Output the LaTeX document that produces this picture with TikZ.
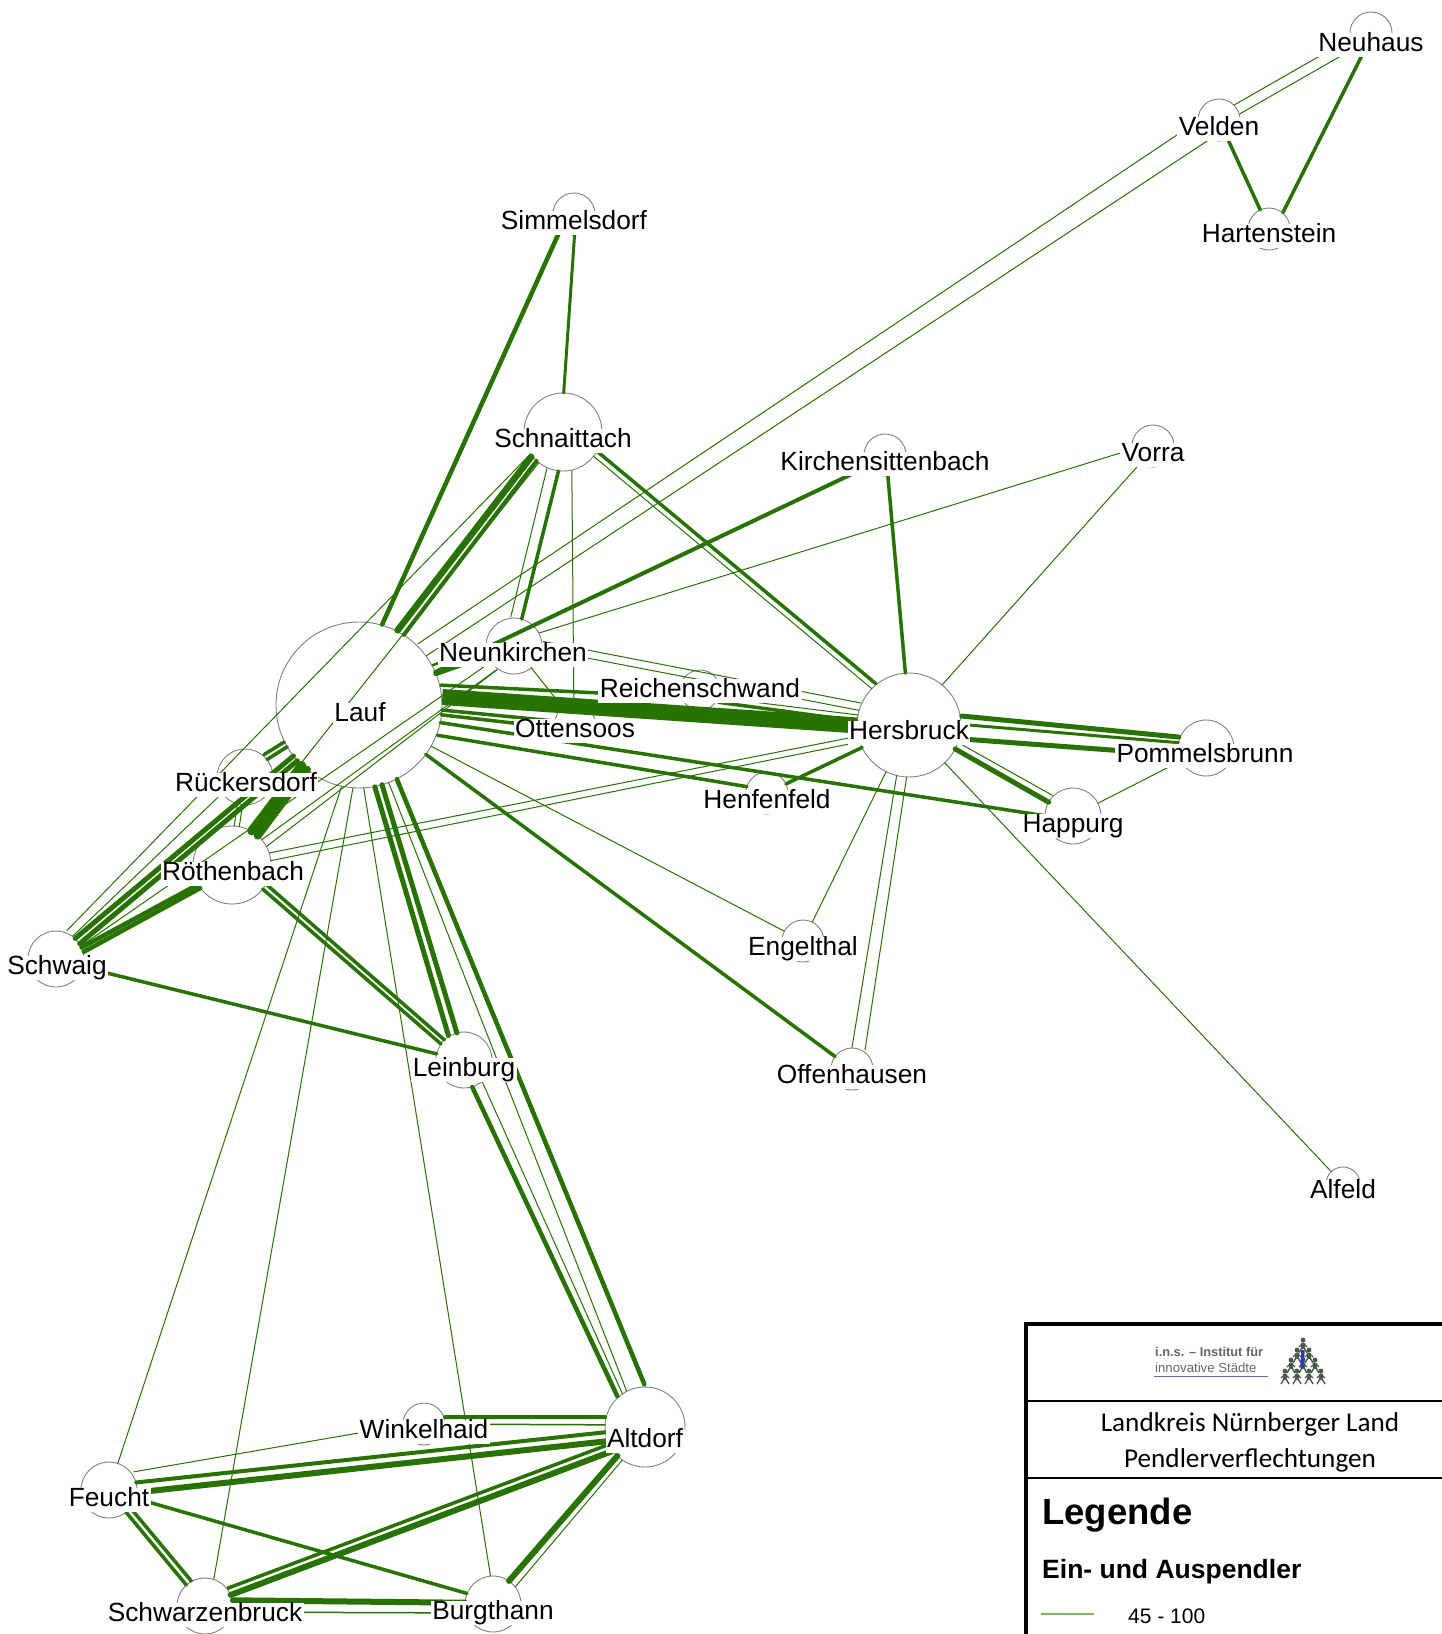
\documentclass[tikz,border=0pt]{standalone}
\usepackage{fontspec}
\setmainfont{Liberation Sans}
\newfontfamily\carl{Carlito}
\usetikzlibrary{calc}
\definecolor{lnkcol}{HTML}{277200}
\definecolor{legcol}{HTML}{7FB069}
\definecolor{logogray}{HTML}{4A5A4A}
\tikzset{
  cityc/.style={circle,draw=black!50,line width=0.9pt,fill=white,inner sep=0pt},
  citylab/.style={fill=white,inner xsep=1.5pt,inner ysep=0pt,text height=19pt,text depth=5.5pt,yshift=-2.75pt,font=\fontsize{26.3}{30}\selectfont,text=black},
  lnkstyle/.style={draw=lnkcol,line cap=round},
  legrule/.style={draw=black,line cap=rect},
  legtxt/.style={inner sep=0pt,text=black}
}
% \city{name}{x}{y}{r}
\newcommand{\city}[4]{\expandafter\gdef\csname r#1\endcsname{#4}\node[cityc,minimum size=#4*2pt] (#1) at (#2,#3) {};}
\newcommand{\lab}[4]{\node[citylab] (#1-l) at (#3,#4) {#2};}
% \lnk[options]{width}{A}{B}{offset at A}{offset at B}; offsets to the left of A->B
\newcommand{\lnk}[6][]{\draw[lnkstyle,#1,line width=#2pt,shorten <=\csname r#3\endcsname pt,shorten >=\csname r#4\endcsname pt] ($(#3)!#5pt!90:(#4)$) -- ($(#4)!#6pt!-90:(#3)$);}
\begin{document}
\begin{tikzpicture}[x=1pt,y=-1pt]
\useasboundingbox (0,0) rectangle (1442,1634);
\fill[white] (0,0) rectangle (1442,1634);
% circles
\city{Neuhaus}{1371}{33}{21}
\city{Velden}{1219}{120}{21}
\city{Hartenstein}{1269}{229}{21}
\city{Simmelsdorf}{574}{214}{21}
\city{Schnaittach}{563}{432}{39}
\city{Kirchensittenbach}{885}{455}{21}
\city{Vorra}{1153}{446}{21}
\city{Neunkirchen}{514}{646}{28}
\city{Lauf}{359}{705}{83}
\city{Reichenschwand}{700}{690}{20}
\city{Ottensoos}{575}{723}{20}
\city{Hersbruck}{909}{725}{52}
\city{Pommelsbrunn}{1206}{748}{28}
\city{Happurg}{1073}{816}{28}
\city{Henfenfeld}{767}{793}{21}
\city{Engelthal}{803}{941}{21}
\city{Offenhausen}{852}{1069}{21}
\city{Alfeld}{1343}{1184}{17}
\city{Rueckersdorf}{245}{777}{28}
\city{Roethenbach}{232}{865}{39}
\city{Schwaig}{56}{959}{28}
\city{Leinburg}{464}{1060}{28}
\city{Altdorf}{645}{1427}{40}
\city{Winkelhaid}{424}{1424}{21}
\city{Feucht}{109}{1490}{28}
\city{Schwarzenbruck}{205}{1606}{28}
\city{Burgthann}{493}{1604}{28}
% north-east
\lnk{1}{Velden}{Neuhaus}{5.5}{5.5}
\lnk{1}{Velden}{Neuhaus}{-5}{-5}
\lnk{3.5}{Hartenstein}{Neuhaus}{-5}{-2}
\lnk{3.5}{Velden}{Hartenstein}{0}{0}
\lnk{1}{Lauf}{Velden}{18}{11}
\lnk{1}{Lauf}{Velden}{4}{-11}
% Simmelsdorf / Schnaittach
\lnk{4.5}{Lauf}{Simmelsdorf}{12}{6}
\lnk{3}{Simmelsdorf}{Schnaittach}{2}{-2}
\lnk{6.5}{Lauf}{Schnaittach}{15}{10}
\lnk{4}{Lauf}{Schnaittach}{7}{3.5}
\lnk{3.5}{Neunkirchen}{Schnaittach}{-1}{-5}
\lnk{1}{Neunkirchen}{Schnaittach}{10}{7}
\lnk{1}{Schnaittach}{Ottensoos}{8.5}{-1}
\lnk{3.5}{Schnaittach}{Hersbruck}{7}{10.5}
\lnk{1}{Schnaittach}{Hersbruck}{1}{4}
% Kirchensittenbach / Vorra
\lnk{4}{Lauf}{Kirchensittenbach}{-3}{-3}
\lnk{3.5}{Kirchensittenbach}{Hersbruck}{1}{1}
\lnk{1}{Neunkirchen}{Vorra}{5}{3}
\lnk{1}{Hersbruck}{Vorra}{2}{-2}
% Neunkirchen
\lnk{1}{Neunkirchen}{Hersbruck}{10}{12.5}
\lnk{1}{Neunkirchen}{Hersbruck}{2}{5}
\lnk{5}{Lauf}{Neunkirchen}{4}{0}
\lnk{2.5}{Lauf}{Neunkirchen}{12}{10}
\lnk{1}{Neunkirchen}{Ottensoos}{0}{0}
% Lauf - east
\lnk[line cap=butt]{16}{Lauf}{Hersbruck}{13.7}{-4}
\lnk{3.5}{Lauf}{Reichenschwand}{24}{-8}
\lnk{3.5}{Reichenschwand}{Hersbruck}{-9.7}{-3}
\lnk{1}{Reichenschwand}{Hersbruck}{-5.4}{3.7}
\lnk{3.5}{Lauf}{Ottensoos}{3}{0}
\lnk{3.5}{Lauf}{Ottensoos}{-0.5}{-7}
\lnk{3.5}{Lauf}{Happurg}{-5}{-4}
\lnk{3.5}{Lauf}{Henfenfeld}{-17}{3}
\lnk{3.5}{Hersbruck}{Henfenfeld}{0}{0}
\lnk{1}{Lauf}{Engelthal}{-3}{0}
\lnk{3.5}{Lauf}{Offenhausen}{0}{0}
% Hersbruck - east and south
\lnk{5}{Hersbruck}{Pommelsbrunn}{14}{8.3}
\lnk{3}{Hersbruck}{Pommelsbrunn}{5}{3}
\lnk{5}{Hersbruck}{Pommelsbrunn}{-10}{-9}
\lnk{5}{Hersbruck}{Happurg}{2}{0}
\lnk{1}{Hersbruck}{Happurg}{8.7}{8}
\lnk{1}{Happurg}{Pommelsbrunn}{0}{0}
\lnk{1}{Hersbruck}{Alfeld}{0}{0}
\lnk{1}{Hersbruck}{Engelthal}{0}{0}
\lnk{1}{Hersbruck}{Offenhausen}{-4}{-3.5}
\lnk{1}{Hersbruck}{Offenhausen}{5.5}{10}
\lnk{1}{Roethenbach}{Hersbruck}{4.6}{-1}
\lnk{1}{Roethenbach}{Hersbruck}{-3.4}{-6.8}
% Lauf - south
\lnk{5}{Lauf}{Leinburg}{-8}{-8}
\lnk{5}{Lauf}{Leinburg}{-1}{1}
\lnk{4.5}{Lauf}{Altdorf}{7}{15.6}
\lnk{1}{Lauf}{Altdorf}{-0.6}{-4}
\lnk{4.5}{Leinburg}{Altdorf}{-4}{-12}
\lnk{1}{Leinburg}{Altdorf}{7.7}{-7}
\lnk{1}{Lauf}{Feucht}{9}{0}
\lnk{1}{Lauf}{Schwarzenbruck}{8.4}{4}
\lnk{1}{Lauf}{Burgthann}{-8.5}{2}
% Lauf - west
\lnk{9}{Roethenbach}{Lauf}{5}{9}
\lnk{8}{Roethenbach}{Lauf}{-3}{3}
\lnk{3.5}{Rueckersdorf}{Lauf}{9}{8}
\lnk{3.5}{Rueckersdorf}{Lauf}{3}{3}
\lnk{5}{Schwaig}{Lauf}{3.5}{3}
\lnk{5}{Schwaig}{Lauf}{-3.5}{-3}
\lnk{1}{Roethenbach}{Rueckersdorf}{3.5}{3.5}
\lnk{1}{Roethenbach}{Rueckersdorf}{-1.6}{-1.6}
\lnk{1}{Schwaig}{Rueckersdorf}{5}{4}
\lnk{1}{Schwaig}{Schnaittach}{12}{8}
\lnk{1}{Roethenbach}{Schnaittach}{9}{0}
\lnk{1}{Roethenbach}{Neunkirchen}{3}{-9}
\lnk{1}{Roethenbach}{Neunkirchen}{-6.3}{-8.5}
\lnk{1}{Schwaig}{Neunkirchen}{-3.5}{0}
\lnk{4.5}{Schwaig}{Roethenbach}{-2}{-1}
\lnk{4.5}{Schwaig}{Roethenbach}{-7}{-5}
\lnk{3.5}{Roethenbach}{Leinburg}{2}{-3}
\lnk{3.5}{Roethenbach}{Leinburg}{8}{2.3}
\lnk{3.5}{Schwaig}{Leinburg}{-1.5}{-0.5}
% south
\lnk{4}{Feucht}{Altdorf}{4.6}{-1}
\lnk{6}{Feucht}{Altdorf}{-5.4}{-10}
\lnk{1}{Feucht}{Winkelhaid}{13.7}{2.3}
\lnk{4}{Winkelhaid}{Altdorf}{7}{10}
\lnk{1.5}{Winkelhaid}{Altdorf}{0}{2}
\lnk{3.5}{Feucht}{Schwarzenbruck}{-1}{-1}
\lnk{3.5}{Feucht}{Schwarzenbruck}{5}{5.5}
\lnk{3.5}{Feucht}{Burgthann}{-0.7}{3}
\lnk{3.5}{Schwarzenbruck}{Altdorf}{8.6}{-3.5}
\lnk{6}{Schwarzenbruck}{Altdorf}{1.3}{-11}
\lnk{6}{Burgthann}{Altdorf}{3}{2}
\lnk{1}{Burgthann}{Altdorf}{-6}{-4}
\lnk{6}{Schwarzenbruck}{Burgthann}{6}{1}
\lnk{1.5}{Schwarzenbruck}{Burgthann}{-6}{-9}
% labels
\lab{Neuhaus}{Neuhaus}{1371}{42}
\lab{Velden}{Velden}{1219}{126}
\lab{Hartenstein}{Hartenstein}{1269}{233}
\lab{Simmelsdorf}{Simmelsdorf}{574}{220}
\lab{Schnaittach}{Schnaittach}{563}{438}
\lab{Kirchensittenbach}{Kirchensittenbach}{885}{461}
\lab{Vorra}{Vorra}{1153}{452}
\lab{Neunkirchen}{Neunkirchen}{513}{652}
\lab{Lauf}{Lauf}{360}{712}
\lab{Reichenschwand}{Reichenschwand}{700}{688}
\lab{Ottensoos}{Ottensoos}{575}{728}
\lab{Hersbruck}{Hersbruck}{909}{730}
\lab{Pommelsbrunn}{Pommelsbrunn}{1205}{753}
\lab{Happurg}{Happurg}{1073}{823}
\lab{Henfenfeld}{Henfenfeld}{767}{799}
\lab{Engelthal}{Engelthal}{803}{946}
\lab{Offenhausen}{Offenhausen}{852}{1074}
\lab{Alfeld}{Alfeld}{1343}{1189}
\lab{Rueckersdorf}{Rückersdorf}{246}{782}
\lab{Roethenbach}{Röthenbach}{233}{871}
\lab{Schwaig}{Schwaig}{57}{965}
\lab{Leinburg}{Leinburg}{464}{1067}
\lab{Altdorf}{Altdorf}{645}{1438}
\lab{Winkelhaid}{Winkelhaid}{424}{1429}
\lab{Feucht}{Feucht}{109}{1497}
\lab{Schwarzenbruck}{Schwarzenbruck}{205}{1612}
\lab{Burgthann}{Burgthann}{493}{1610}
% legend frame
\coordinate (legTL) at (1026,1324);
\coordinate (legTR) at (1442,1324);
\coordinate (legBL) at (1026,1634);
\draw[legrule,line width=4pt] (legTR) -- (legTL) -- (legBL);
\draw[draw=black,line width=2.5pt] (1026,1401) -- (1442,1401);
\draw[draw=black,line width=2.5pt] (1026,1478) -- (1442,1478);
% logo
\node[legtxt,anchor=west,text=black!60,font=\bfseries\fontsize{12.8}{14}\selectfont] (logoA) at (1155,1352) {i.n.s. – Institut für};
\node[legtxt,anchor=west,text=black!60,font=\fontsize{13.2}{14}\selectfont] (logoB) at (1155,1368) {innovative Städte};
\draw[blue!50!black!60,line width=1pt] (1154,1376) -- (1268,1376);
\foreach \px/\py in {1303/1340,1297/1350,1309/1350,1291/1360,1303/1360,1315/1360,1285/1371,1297/1371,1309/1371,1321/1371}{
  \fill[logogray] (\px,\py) circle (2.4pt);
  \draw[logogray,line width=3.2pt] (\px,\py+3) -- (\px,\py+9);
  \draw[logogray,line width=1.4pt] (\px-4,\py+13) -- (\px,\py+6) -- (\px+4,\py+13);
  \draw[logogray,line width=1.2pt] (\px-4,\py+7) -- (\px,\py+3) -- (\px+4,\py+7);
}
\draw[blue!70!black!80,line width=3.4pt] (1303,1350) -- (1302,1368);
% legend text
\node[legtxt,font=\carl\fontsize{27.2}{30}\selectfont] (legTitleA) at (1250,1424) {Landkreis Nürnberger Land};
\node[legtxt,font=\carl\fontsize{27.2}{30}\selectfont] (legTitleB) at (1250,1460) {Pendlerverflechtungen};
\node[legtxt,anchor=west,font=\bfseries\fontsize{36.5}{40}\selectfont] (legHead) at (1042,1515) {Legende};
\node[legtxt,anchor=west,font=\bfseries\fontsize{26.5}{30}\selectfont] (legSub) at (1042,1572) {Ein- und Auspendler};
\coordinate (legA) at (1041,1614);
\coordinate (legB) at (1094,1614);
\draw[legcol,line width=1.3pt] (legA) -- (legB);
\node[legtxt,anchor=west,font=\fontsize{21}{24}\selectfont] (legVal) at (1128,1616) {45 - 100};
\end{tikzpicture}
\end{document}
